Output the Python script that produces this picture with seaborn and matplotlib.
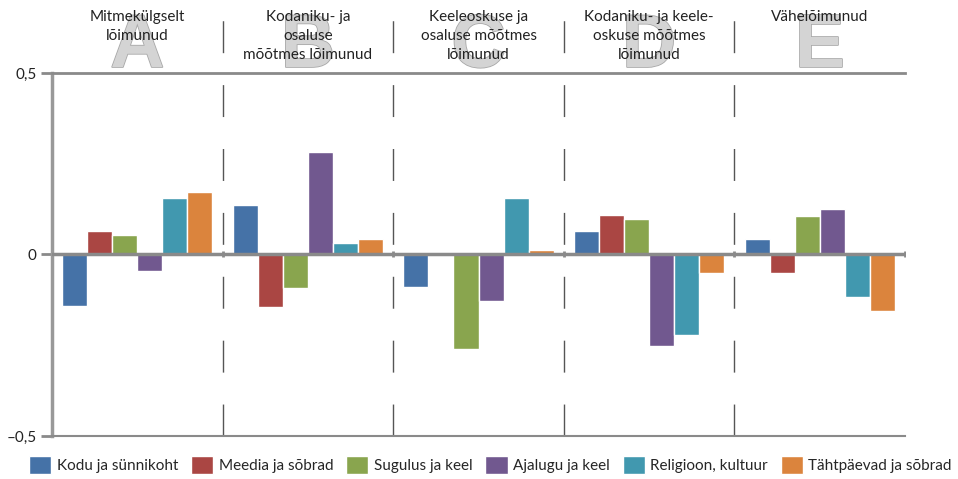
import seaborn as sns
import matplotlib.pyplot as plt
import matplotlib.patheffects as pe
import pandas as pd

# rühmad (A-E) ja nende pealkirjad
grupid = ['A', 'B', 'C', 'D', 'E']
pealkirjad = ['Mitmekülgselt\nlõimunud',
              'Kodaniku- ja\nosaluse\nmõõtmes lõimunud',
              'Keeleoskuse ja\nosaluse mõõtmes\nlõimunud',
              'Kodaniku- ja keele-\noskuse mõõtmes\nlõimunud',
              'Vähelõimunud']

seeriad = ['Kodu ja sünnikoht', 'Meedia ja sõbrad', 'Sugulus ja keel',
           'Ajalugu ja keel', 'Religioon, kultuur', 'Tähtpäevad ja sõbrad']

kodu = [-0.141, 0.135, -0.090, 0.064, 0.044]
meedia = [0.064, -0.146, 0.0, 0.108, -0.050]
sugulus = [0.055, -0.093, -0.260, 0.097, 0.105]
ajalugu = [-0.046, 0.282, -0.127, -0.253, 0.124]
religioon = [0.155, 0.033, 0.157, -0.223, -0.116]
tahtpaevad = [0.171, 0.044, 0.011, -0.050, -0.157]

varvid = ['#4572A7', '#AA4643', '#89A54E', '#71588F', '#4198AF', '#DB843D']

yticks = [-0.5, 0, 0.5]
yticklabels = ['\u20130,5', '0', '0,5']

vaartused = [kodu, meedia, sugulus, ajalugu, religioon, tahtpaevad]
read = []
for s, v in zip(seeriad, vaartused):
    for g, x in zip(grupid, v):
        read.append({'grupp': g, 'seeria': s, 'vaartus': x})
df = pd.DataFrame(read)

sns.set_style('white')
plt.rcParams['font.family'] = ['Lato', 'DejaVu Sans']

fig = plt.figure(figsize=(9.58, 4.79), dpi=100)
ax = fig.add_axes([0.0543, 0.0898, 0.8904, 0.7578])

sns.barplot(data=df, x='grupp', y='vaartus', hue='seeria', order=grupid,
            hue_order=seeriad, palette=varvid, saturation=1, width=0.88,
            ax=ax, zorder=3)

ax.set_xlim(-0.5, 4.5)
ax.set_ylim(-0.5, 0.5)
ax.set_xlabel('')
ax.set_ylabel('')
ax.set_xticks([])
ax.set_yticks(yticks)
ax.set_yticklabels(yticklabels, fontsize=11, color='#222222')
ax.tick_params(axis='y', length=8, width=2, color='#8a8a8a', pad=3, left=True)

ax.spines['right'].set_visible(False)
ax.spines['left'].set_color('#999999')
ax.spines['left'].set_linewidth(2.5)
ax.spines['top'].set_color('#8a8a8a')
ax.spines['top'].set_linewidth(2)
ax.spines['bottom'].set_color('#8a8a8a')
ax.spines['bottom'].set_linewidth(1.5)

# nulljoon
ax.axhline(0, color='#8a8a8a', lw=2.5, zorder=4)
ax.plot([0.5, 1.5, 2.5, 3.5, 4.5], [0] * 5, ls='none', marker='|',
        ms=5, mew=2, color='#8a8a8a', zorder=4)

# rühmade eraldusjooned
for xs in [0.5, 1.5, 2.5, 3.5]:
    ax.plot([xs, xs], [-0.5, 0.5 + 65 / 363], color='#555555', lw=1,
            dashes=(23, 23), clip_on=False, zorder=2)

# suured tähed ja pealkirjad
for i, (g, t) in enumerate(zip(grupid, pealkirjad)):
    ax.text(i, 0.5 + 6 / 363, g, ha='center', va='baseline', fontsize=54,
            fontweight='bold', family='Liberation Sans', color='#d4d4d4',
            zorder=1, clip_on=False,
            path_effects=[pe.withStroke(linewidth=1.2, foreground='#a8a8a8')])
    ax.text(i, 0.5 + 63 / 363, t, ha='center', va='top', fontsize=11,
            color='#222222', linespacing=1.45, zorder=5, clip_on=False)

handles, labels = ax.get_legend_handles_labels()
ax.get_legend().remove()
fig.legend(handles, labels, ncol=6, loc='lower center',
           bbox_to_anchor=(0.512, -0.018), frameon=False, fontsize=11,
           handlelength=1.45, handleheight=1.45, handletextpad=0.35,
           columnspacing=0.85)

fig.savefig('out.png', dpi=100)
